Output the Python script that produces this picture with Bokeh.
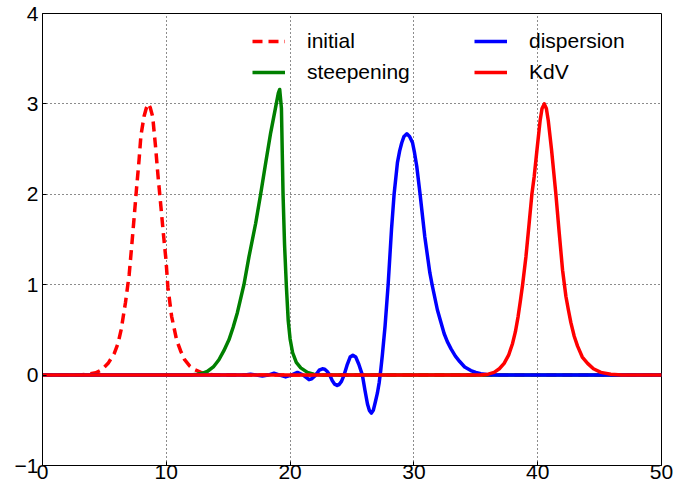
from bokeh.plotting import figure
from bokeh.models import Legend, LegendItem, FixedTicker, Range1d
from bokeh.embed import file_html
from bokeh.resources import INLINE

# ---- data ----
initial_x = [0, 3.0, 3.7, 4.3, 4.8, 5.3, 5.8, 6.1, 6.35, 6.7, 7.0, 7.2, 7.4, 7.6, 7.8, 7.95,
             8.2, 8.4, 8.55, 8.7, 8.9, 9.13, 9.32, 9.54, 9.76, 9.97, 10.13, 10.43, 10.83,
             11.15, 11.48, 11.9, 12.3, 12.8, 13.3, 14.0, 50]
initial_y = [0, 0, 0.01, 0.025, 0.06, 0.13, 0.24, 0.35, 0.5, 0.8, 1.11, 1.42, 1.74, 2.07, 2.38, 2.65,
             2.86, 2.96, 3.0, 2.96, 2.86, 2.53, 2.22, 1.9, 1.57, 1.28, 0.97, 0.65, 0.39,
             0.27, 0.17, 0.1, 0.06, 0.03, 0.01, 0, 0]

steep_x = [0, 12.0, 12.5, 12.9, 13.31, 13.8, 14.25, 14.65, 15.06, 15.4, 15.74, 16.27, 16.68,
           17.22, 17.62, 18.03, 18.43, 18.84, 19.05, 19.16, 19.3, 19.43, 19.55, 19.7, 19.85,
           20.0, 20.2, 20.5, 20.86, 21.4, 21.9, 22.5, 50]
steep_y = [0, 0, 0.01, 0.02, 0.04, 0.09, 0.17, 0.27, 0.39, 0.53, 0.69, 1.0, 1.31,
           1.68, 2.0, 2.35, 2.68, 2.97, 3.12, 3.16, 2.95, 2.0, 1.45, 0.98, 0.6,
           0.4, 0.25, 0.14, 0.08, 0.03, 0.01, 0, 0]

disp_x = [0, 15.9, 16.35, 16.8, 17.28, 17.76, 18.23, 18.7, 19.17, 19.64, 20.1, 20.59, 21.06,
          21.53, 21.75, 22.07, 22.35, 22.61, 22.8, 23.0, 23.2, 23.4, 23.6, 23.8, 23.95, 24.15,
          24.36, 24.6, 24.85, 25.07, 25.3, 25.55, 25.84, 26.05, 26.25, 26.4, 26.57, 26.72,
          26.88, 27.05, 27.2, 27.32, 27.45, 27.67, 27.92, 28.19, 28.4, 28.67, 28.85, 29.02,
          29.2, 29.43, 29.65, 29.89, 30.05, 30.23, 30.5, 30.88, 31.29, 31.5, 31.9, 32.17,
          32.44, 32.7, 33.0, 33.35, 33.7, 34.1, 34.6, 35.0, 35.4, 36.0, 36.8, 50]
disp_y = [0, 0, 0, 0.01, 0, -0.01, 0, 0.02, 0, -0.02, 0, 0.03, 0,
          -0.05, -0.04, 0, 0.055, 0.07, 0.065, 0.04, 0, -0.06, -0.1, -0.115, -0.105, -0.07,
          0, 0.11, 0.2, 0.22, 0.2, 0.12, 0, -0.17, -0.32, -0.39, -0.42, -0.39,
          -0.3, -0.2, -0.08, 0.05, 0.22, 0.54, 1.0, 1.61, 2.0, 2.35, 2.48, 2.57,
          2.64, 2.67, 2.64, 2.57, 2.46, 2.31, 2.0, 1.53, 1.13, 0.98, 0.72, 0.59,
          0.46, 0.37, 0.29, 0.21, 0.15, 0.09, 0.05, 0.03, 0.015, 0.005, 0, 0]

kdv_x = [0, 35.4, 36.0, 36.48, 36.9, 37.29, 37.65, 37.97, 38.2, 38.42, 38.6, 38.78, 39.05,
         39.31, 39.53, 39.72, 39.94, 40.2, 40.35, 40.53, 40.7, 40.85, 41.12, 41.47, 41.74,
         42.01, 42.28, 42.48, 42.68, 42.95, 43.22, 43.6, 44.03, 44.5, 45.1, 45.9, 46.8, 50]
kdv_y = [0, 0, 0.01, 0.03, 0.07, 0.13, 0.22, 0.35, 0.48, 0.65, 0.82, 1.0, 1.31,
         1.68, 2.0, 2.2, 2.49, 2.82, 2.95, 3.0, 2.95, 2.82, 2.49, 2.0, 1.57,
         1.16, 0.87, 0.72, 0.58, 0.43, 0.32, 0.2, 0.13, 0.07, 0.03, 0.01, 0, 0]

x_ticks = [0, 10, 20, 30, 40, 50]
y_ticks = [-1, 0, 1, 2, 3, 4]
y_tick_labels = ["\u22121", "0", "1", "2", "3", "4"]
series_names = ["initial", "steepening", "dispersion", "KdV"]

FONT = "Liberation Sans"

p = figure(width=673, height=487, output_backend="svg", toolbar_location=None,
           x_range=Range1d(0, 50), y_range=Range1d(-1, 4),
           min_border_left=42, min_border_right=12, min_border_top=13, min_border_bottom=22)
p.background_fill_color = "white"
p.border_fill_color = "white"
p.outline_line_color = "black"
p.outline_line_width = 1

common = dict(line_width=3.5, line_join="round", line_cap="butt")
r_init = p.line(initial_x, initial_y, line_color="#ff0000", line_dash="10 6", **common)
r_steep = p.line(steep_x, steep_y, line_color="#008000", **common)
r_disp = p.line(disp_x, disp_y, line_color="#0000ff", **common)
r_kdv = p.line(kdv_x, kdv_y, line_color="#ff0000", **common)

for ax in (p.xaxis[0], p.yaxis[0]):
    ax.major_label_text_font = FONT
    ax.major_label_text_font_size = "21px"
    ax.major_label_text_color = "black"
    ax.major_tick_in = 4
    ax.major_tick_out = 0
    ax.minor_tick_in = 0
    ax.minor_tick_out = 0
    ax.axis_line_color = "black"
    ax.major_tick_line_color = "black"

p.xaxis[0].ticker = FixedTicker(ticks=x_ticks)
p.yaxis[0].ticker = FixedTicker(ticks=y_ticks)
p.yaxis[0].major_label_overrides = {t: lab for t, lab in zip(y_ticks, y_tick_labels)}
p.xaxis[0].major_label_standoff = -1
p.yaxis[0].major_label_standoff = 4

p.xgrid.ticker = FixedTicker(ticks=x_ticks)
p.ygrid.ticker = FixedTicker(ticks=y_ticks)
for g in (p.xgrid[0], p.ygrid[0]):
    g.grid_line_color = "black"
    g.grid_line_alpha = 0.9
    g.grid_line_dash = "1 3"
    g.grid_line_width = 1


def make_legend(items, loc):
    lg = Legend(items=items, location=loc, orientation="vertical")
    lg.label_text_font = FONT
    lg.label_text_font_size = "21px"
    lg.label_text_color = "black"
    lg.glyph_width = 33
    lg.glyph_height = 24
    lg.label_height = 24
    lg.label_standoff = 22
    lg.spacing = 7
    lg.padding = 0
    lg.margin = 0
    lg.border_line_alpha = 0
    lg.background_fill_alpha = 0
    return lg


leg1 = make_legend([LegendItem(label=series_names[0], renderers=[r_init]),
                    LegendItem(label=series_names[1], renderers=[r_steep])], (210, 381))
leg2 = make_legend([LegendItem(label=series_names[2], renderers=[r_disp]),
                    LegendItem(label=series_names[3], renderers=[r_kdv])], (432, 381))
p.add_layout(leg1, "center")
p.add_layout(leg2, "center")

open("out.html", "w").write(file_html(p, INLINE))
